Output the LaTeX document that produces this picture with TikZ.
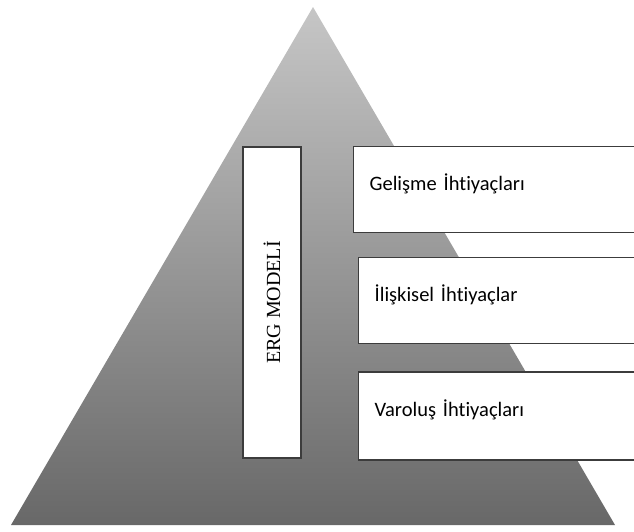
\documentclass[tikz,border=0pt]{standalone}
\usepackage{fontspec}
\setmainfont{Liberation Serif}
\newfontfamily\boxfont[Ligatures=NoCommon]{Carlito}
\usetikzlibrary{positioning}
\definecolor{pyramidtop}{HTML}{C6C6C6}
\definecolor{pyramidbottom}{HTML}{686868}
\definecolor{boxline}{HTML}{3C3C3C}

\begin{document}
\begin{tikzpicture}[
    x=1pt, y=-1pt,
    pyramid/.style={top color=pyramidtop, bottom color=pyramidbottom, draw=none},
    block/.style={rectangle, draw=boxline, fill=white, line width=1.3pt, inner sep=0pt},
    need/.style={block, minimum height=86pt, text width=275pt, align=left, inner xsep=16pt,
        text depth=15pt, font=\boxfont\fontsize{20.5}{24}\selectfont, anchor=west},
    model/.style={block, minimum width=311pt, minimum height=58pt, rotate=90,
        font=\fontsize{20}{24}\selectfont}
]
    \useasboundingbox (0,0) rectangle (634,531);

    % Pyramid
    \path [pyramid] (313,7) -- (615,525) -- (11,525) -- cycle;

    % Place nodes
    \node [model] (erg) at (272,302.5) {ERG MODELİ};
    \node [need] (growth) at (353,189.5) {Gelişme İhtiyaçları};
    \node [need, below=24pt of growth.south west, anchor=north west, xshift=5pt] (relatedness) {İlişkisel İhtiyaçlar};
    \node [need, below=27pt of relatedness.south west, anchor=north west, minimum height=88pt] (existence) {Varoluş İhtiyaçları};
\end{tikzpicture}
\end{document}
